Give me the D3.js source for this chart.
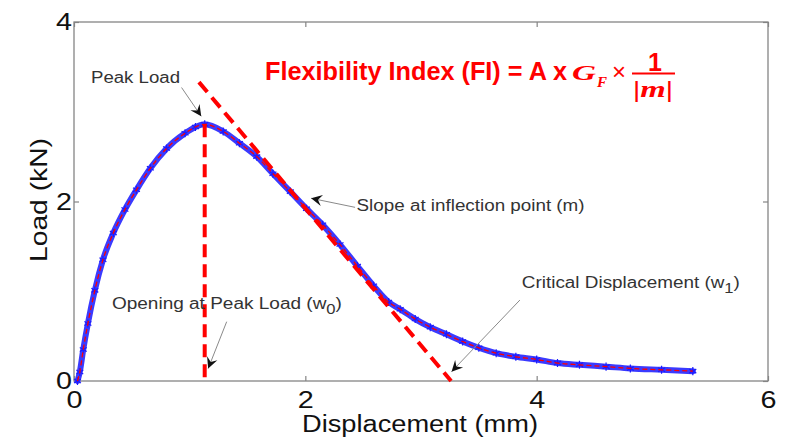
<!DOCTYPE html>
<html>
<head>
<meta charset="utf-8">
<script src="https://cdn.jsdelivr.net/npm/d3@7"></script>
<style>
  body { margin: 0; background: #fff; }
  svg { display: block; font-family: "Liberation Sans", Arial, sans-serif; }
  .axis text { font-size: 24px; fill: #111; }
  .axis line { stroke: #858585; stroke-width: 1.2; }
  .note { font-size: 16px; fill: #333; white-space: pre; }
  .formula { fill: #ff0000; white-space: pre; }
</style>
</head>
<body>
<svg width="787" height="440"></svg>
<script>
// load-displacement curve
const displacement = [0.03, 0.05, 0.08, 0.12, 0.18, 0.25, 0.34, 0.44, 0.54, 0.66, 0.80, 0.96, 1.05, 1.13,
  1.29, 1.43, 1.58, 1.72, 1.87, 2.01, 2.15, 2.30, 2.45, 2.59, 2.72, 2.82, 2.95, 3.08, 3.22, 3.36,
  3.50, 3.65, 3.82, 4.00, 4.18, 4.37, 4.60, 4.81, 5.08, 5.35];
const load = [0.00, 0.10, 0.35, 0.64, 1.01, 1.35, 1.65, 1.91, 2.13, 2.37, 2.59, 2.76, 2.83, 2.86,
  2.78, 2.65, 2.50, 2.31, 2.11, 1.92, 1.74, 1.52, 1.28, 1.06, 0.88, 0.80, 0.69, 0.60, 0.52, 0.44,
  0.37, 0.31, 0.27, 0.24, 0.20, 0.18, 0.16, 0.14, 0.125, 0.11];

const xTicks = [0, 2, 4, 6];
const yTicks = [0, 2, 4];

// peak and the tangent at the inflection point
const peak = [1.13, 2.86];
const tangentDisp = [1.08, 3.26];
const tangentLoad = [3.33, 0];

const svg = d3.select("svg");

const x = d3.scaleLinear().domain([0, 6]).range([74, 768]);
const y = d3.scaleLinear().domain([0, 4]).range([381, 22]);

const fmt = d3.format("d");

// axes, ticks pointing inwards
svg.append("g")
  .attr("class", "axis")
  .attr("transform", `translate(0,${y(0)})`)
  .call(d3.axisBottom(x).tickValues(xTicks).tickFormat(fmt).tickSize(-5).tickPadding(10))
  .call(g => g.select(".domain").remove())
  .call(g => g.selectAll("text").attr("textLength", 16).attr("lengthAdjust", "spacingAndGlyphs"));

svg.append("g")
  .attr("class", "axis")
  .attr("transform", `translate(0,${y(4)})`)
  .call(d3.axisTop(x).tickValues(xTicks).tickSize(-5).tickFormat(""))
  .call(g => g.select(".domain").remove());

svg.append("g")
  .attr("class", "axis")
  .attr("transform", `translate(${x(0)},0)`)
  .call(d3.axisLeft(y).tickValues(yTicks).tickFormat(fmt).tickSize(-5).tickPadding(2))
  .call(g => g.select(".domain").remove())
  .call(g => g.selectAll("text").attr("textLength", 16).attr("lengthAdjust", "spacingAndGlyphs"));

svg.append("g")
  .attr("class", "axis")
  .attr("transform", `translate(${x(6)},0)`)
  .call(d3.axisRight(y).tickValues(yTicks).tickSize(-5).tickFormat(""))
  .call(g => g.select(".domain").remove());

svg.append("rect")
  .attr("x", x(0))
  .attr("y", y(4))
  .attr("width", x(6) - x(0))
  .attr("height", y(0) - y(4))
  .attr("fill", "none")
  .attr("stroke", "#858585")
  .attr("stroke-width", 1.3);

// axis titles
svg.append("text")
  .attr("x", 420)
  .attr("y", 432)
  .attr("text-anchor", "middle")
  .attr("font-size", 23)
  .attr("fill", "#111")
  .attr("textLength", 236)
  .attr("lengthAdjust", "spacingAndGlyphs")
  .text("Displacement (mm)");

svg.append("text")
  .attr("transform", "translate(47,200) rotate(-90)")
  .attr("text-anchor", "middle")
  .attr("font-size", 24)
  .attr("fill", "#111")
  .attr("textLength", 124)
  .attr("lengthAdjust", "spacingAndGlyphs")
  .text("Load (kN)");

// measured curve: blue star band with thin red dashed line through it
const points = d3.zip(displacement, load);
const line = d3.line().x(d => x(d[0])).y(d => y(d[1])).curve(d3.curveMonotoneX);

svg.append("path")
  .datum(points)
  .attr("d", line)
  .attr("fill", "none")
  .attr("stroke", "#3a3aff")
  .attr("stroke-width", 6)
  .attr("stroke-linejoin", "round")
  .attr("stroke-linecap", "round");

const star = d3.symbol().type(d3.symbolAsterisk || d3.symbolCross).size(45);
svg.append("g")
  .selectAll("path")
  .data(points)
  .join("path")
  .attr("transform", d => `translate(${x(d[0])},${y(d[1])})`)
  .attr("d", star)
  .attr("fill", "none")
  .attr("stroke", "#1a1aff")
  .attr("stroke-width", 1.2);

svg.append("path")
  .datum(points)
  .attr("d", line)
  .attr("fill", "none")
  .attr("stroke", "#ff0000")
  .attr("stroke-width", 1.3)
  .attr("stroke-dasharray", "5,3");

// thick red dashed construction lines
svg.append("line")
  .attr("x1", x(peak[0])).attr("y1", y(peak[1]))
  .attr("x2", x(peak[0])).attr("y2", y(0))
  .attr("stroke", "#ff0000")
  .attr("stroke-width", 4)
  .attr("stroke-dasharray", "13,7");

svg.append("line")
  .attr("x1", x(tangentDisp[0])).attr("y1", y(tangentLoad[0]))
  .attr("x2", x(tangentDisp[1])).attr("y2", y(tangentLoad[1]))
  .attr("stroke", "#ff0000")
  .attr("stroke-width", 4)
  .attr("stroke-dasharray", "13,7");

// annotations (positions in data units)
const notes = [
  { text: "Peak Load", sub: "", end: "", tx: 0.147, ty: 3.32, len: 89, from: [0.93, 3.27], to: [1.10, 2.95] },
  { text: "Slope at inflection point (m)", sub: "", end: "", tx: 2.443, ty: 1.894, len: 228, from: [2.43, 1.935], to: [2.05, 2.036] },
  { text: "Opening at Peak Load (w", sub: "0", end: ")", tx: 0.328, ty: 0.802, len: 230, from: [1.32, 0.661], to: [1.16, 0.139] },
  { text: "Critical Displacement (w", sub: "1", end: ")", tx: 3.872, ty: 1.036, len: 218, from: [3.855, 0.902], to: [3.264, 0.104] }
];

notes.forEach(n => {
  const t = svg.append("text")
    .attr("class", "note")
    .attr("x", x(n.tx))
    .attr("y", y(n.ty))
    .attr("textLength", n.len)
    .attr("lengthAdjust", "spacingAndGlyphs");
  t.append("tspan").text(n.text);
  if (n.sub) {
    t.append("tspan").attr("dy", 5).attr("font-size", 14).text(n.sub);
    t.append("tspan").attr("dy", -5).text(n.end);
  }

  const x0 = x(n.from[0]), y0 = y(n.from[1]);
  const x1 = x(n.to[0]), y1 = y(n.to[1]);
  const angle = Math.atan2(y1 - y0, x1 - x0) * 180 / Math.PI;

  svg.append("line")
    .attr("x1", x0).attr("y1", y0)
    .attr("x2", x1).attr("y2", y1)
    .attr("stroke", "#8a8a8a")
    .attr("stroke-width", 1);

  svg.append("path")
    .attr("transform", `translate(${x1},${y1}) rotate(${angle})`)
    .attr("d", "M0,0L-11,-5.5L-7,0L-11,5.5Z")
    .attr("fill", "#111");
});

// formula
const formula = svg.append("g").attr("class", "formula");

formula.append("text")
  .attr("x", 265)
  .attr("y", 80)
  .attr("font-size", 25)
  .attr("font-weight", "bold")
  .attr("textLength", 302)
  .attr("lengthAdjust", "spacingAndGlyphs")
  .text("Flexibility Index  (FI) = A x");

formula.append("text")
  .attr("x", 572)
  .attr("y", 80)
  .attr("font-family", "Liberation Serif, serif")
  .attr("font-size", 22)
  .attr("font-weight", "bold")
  .attr("font-style", "italic")
  .attr("textLength", 24)
  .attr("lengthAdjust", "spacingAndGlyphs")
  .text("G");

formula.append("text")
  .attr("x", 597)
  .attr("y", 87)
  .attr("font-family", "Liberation Serif, serif")
  .attr("font-size", 15)
  .attr("font-weight", "bold")
  .attr("font-style", "italic")
  .text("F");

formula.append("text")
  .attr("x", 619)
  .attr("y", 80)
  .attr("text-anchor", "middle")
  .attr("font-size", 24)
  .text("×");

formula.append("line")
  .attr("x1", 632).attr("x2", 675)
  .attr("y1", 73.5).attr("y2", 73.5)
  .attr("stroke", "#ff0000")
  .attr("stroke-width", 2);

formula.append("text")
  .attr("x", 655)
  .attr("y", 71)
  .attr("text-anchor", "middle")
  .attr("font-size", 25)
  .attr("font-weight", "bold")
  .text("1");

const denom = formula.append("text")
  .attr("x", 633)
  .attr("y", 97)
  .attr("font-family", "Liberation Serif, serif")
  .attr("font-size", 23)
  .attr("font-weight", "bold")
  .attr("textLength", 40)
  .attr("lengthAdjust", "spacingAndGlyphs");
denom.append("tspan").text("|");
denom.append("tspan").attr("font-style", "italic").text("m");
denom.append("tspan").text("|");
</script>
</body>
</html>
